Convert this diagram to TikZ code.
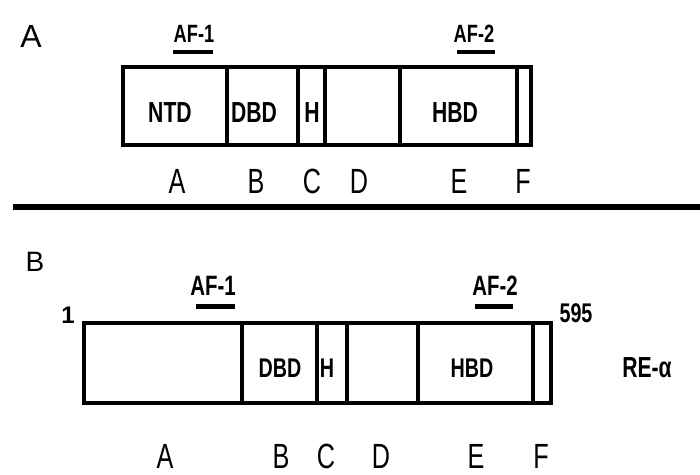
\documentclass[tikz,border=0pt]{standalone}
\usepackage{fontspec}
\setmainfont{Liberation Sans}
\newfontfamily\narrowfont[FakeStretch=0.73]{Liberation Sans}
\newfontfamily\thinfont[FakeStretch=0.72]{Liberation Sans}
\newcommand{\fsz}[1]{\fontsize{#1}{#1}\selectfont}
\tikzset{
  segA/.style={draw, line width=3.5pt, minimum height=78pt, anchor=west,
               outer sep=0pt, inner sep=0pt},
  segB/.style={draw, line width=4.5pt, minimum height=80pt, anchor=west,
               outer sep=0pt, inner sep=0pt},
  domA/.style={anchor=base, inner sep=0pt, font=\narrowfont\bfseries\fsz{29}},
  domB/.style={anchor=base, inner sep=0pt, font=\narrowfont\bfseries\fsz{27}},
  afA/.style={anchor=base, inner sep=0pt, font=\narrowfont\bfseries\fsz{25}},
  afB/.style={anchor=base, inner sep=0pt, font=\narrowfont\bfseries\fsz{28}},
  region/.style={anchor=base, inner sep=0pt, font=\thinfont\fsz{35}},
  panel/.style={anchor=base, inner sep=0pt},
  uline/.style={line width=4pt},
}
\begin{document}
\begin{tikzpicture}[x=1pt, y=-1pt]
\useasboundingbox[fill=white] (0,0) rectangle (700,474);

% ---------- panel A ----------
\node[panel, font=\fsz{32}] (pA) at (31,47) {A};

\node[segA, minimum width=104pt] (ntdA) at (123,106) {};
\node[segA, minimum width=71pt]  (dbdA) at (227,106) {};
\node[segA, minimum width=27pt]  (hA)   at (298,106) {};
\node[segA, minimum width=75pt]  (dA)   at (325,106) {};
\node[segA, minimum width=117pt] (hbdA) at (400,106) {};
\node[segA, minimum width=14pt]  (fA)   at (517,106) {};

\node[domA] (tntdA) at (170,122) {NTD};
\node[domA] (tdbdA) at (254,122) {DBD};
\node[domA] (thA)   at (312,122) {H};
\node[domA] (thbdA) at (455,122) {HBD};

\node[afA] (af1A) at (194,42) {AF-1};
\node[afA] (af2A) at (474,42) {AF-2};
\draw[uline] (173,52) -- (213,52);
\draw[uline] (457,52) -- (495,52);

\node[region] (rAa) at (177,193) {A};
\node[region] (rAb) at (256,193) {B};
\node[region] (rAc) at (312,193) {C};
\node[region] (rAd) at (359,193) {D};
\node[region] (rAe) at (459,193) {E};
\node[region] (rAf) at (523,193) {F};

% ---------- separator ----------
\coordinate (sepL) at (13,207);
\coordinate (sepR) at (700,207);
\draw[line width=6pt] (sepL) -- (sepR);

% ---------- panel B ----------
\node[panel, font=\fsz{28}] (pB) at (35,271) {B};

\node[segB, minimum width=158pt] (aB)   at (84,363) {};
\node[segB, minimum width=75pt]  (dbdB) at (242,363) {};
\node[segB, minimum width=30pt]  (hB)   at (317,363) {};
\node[segB, minimum width=71pt]  (dB)   at (347,363) {};
\node[segB, minimum width=115pt] (hbdB) at (418,363) {};
\node[segB, minimum width=18pt]  (fB)   at (533,363) {};

\node[domB] (tdbdB) at (280,377) {DBD};
\node[domB] (thB)   at (327,377) {H};
\node[domB] (thbdB) at (472,377) {HBD};

\node[afB] (af1B) at (213,295) {AF-1};
\node[afB] (af2B) at (495,295) {AF-2};
\draw[uline, line width=5pt] (196,306) -- (235,306);
\draw[uline, line width=5pt] (475,306) -- (513,306);

\node[anchor=base, inner sep=0pt, font=\bfseries\fsz{24}] (start) at (68,323) {1};
\node[afB, font=\narrowfont\bfseries\fsz{27}] (stop) at (576,322) {595};
\node[afB, font=\narrowfont\bfseries\fsz{29}] (name) at (647,377) {RE-α};

\node[region] (rBa) at (165,468) {A};
\node[region] (rBb) at (281,468) {B};
\node[region] (rBc) at (326,468) {C};
\node[region] (rBd) at (381,468) {D};
\node[region] (rBe) at (476,468) {E};
\node[region] (rBf) at (541,468) {F};
\end{tikzpicture}
\end{document}
